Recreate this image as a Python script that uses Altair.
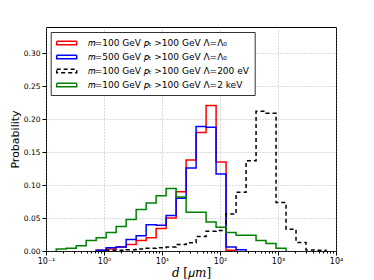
import altair as alt
import pandas as pd

# bin edges (micrometres), 28 log-spaced bins
edges = [0.150, 0.223, 0.332, 0.493, 0.733, 1.090, 1.621, 2.411, 3.584, 5.329,
         7.924, 11.78, 17.52, 26.05, 38.73, 57.59, 85.63, 127.3, 189.3, 281.5,
         418.5, 622.3, 925.3, 1376, 2045, 3041, 4522, 6724, 10000]

series_names = [
    "𝑚=100 GeV 𝑝ₜ >100 GeV Λ=Λ₀",
    "𝑚=500 GeV 𝑝ₜ >100 GeV Λ=Λ₀",
    "𝑚=100 GeV 𝑝ₜ >100 GeV Λ=200 eV",
    "𝑚=100 GeV 𝑝ₜ >100 GeV Λ=2 keV",
]

red = [0, 0, 0, 0, 0.001, 0.003, 0.006, 0.010, 0.016, 0.020, 0.034, 0.050, 0.090, 0.138,
       0.180, 0.221, 0.135, 0.001, 0, 0, 0, 0, 0, 0, 0, 0, 0, 0]
blue = [0, 0, 0, 0, 0.001, 0.005, 0.006, 0.0175, 0.023, 0.040, 0.039, 0.054, 0.080, 0.126,
        0.189, 0.188, 0.117, 0.006, 0.002, 0, 0, 0, 0, 0, 0, 0, 0, 0]
black = [0, 0, 0, 0, 0, 0.001, 0.001, 0.002, 0.003, 0.004, 0.005, 0.006, 0.010, 0.0125,
         0.022, 0.030, 0.031, 0.056, 0.089, 0.137, 0.212, 0.209, 0.0735, 0.033, 0.013,
         0.0015, 0.001, 0]
green = [0.003, 0.004, 0.008, 0.016, 0.020, 0.028, 0.037, 0.048, 0.063, 0.073, 0.084,
         0.095, 0.082, 0.059, 0.059, 0.044, 0.036, 0.028, 0.024, 0.024, 0.016, 0.0115,
         0.004, 0, 0, 0, 0, 0]

colors = ["#ff0000", "#0000ff", "#000000", "#008000"]
dashes = [[1, 0], [1, 0], [4, 3], [1, 0]]

rows = []
for name, vals in zip(series_names, [red, blue, black, green]):
    nz = [i for i, v in enumerate(vals) if v > 0]
    i0, i1 = nz[0], nz[-1]
    o = 0
    rows.append(dict(s=name, d=edges[i0], p=0.0, o=o)); o += 1
    for i in range(i0, i1 + 1):
        rows.append(dict(s=name, d=edges[i], p=vals[i], o=o)); o += 1
    rows.append(dict(s=name, d=edges[i1 + 1], p=0.0, o=o))
df = pd.DataFrame(rows)

x_ticks = []
for e in range(-1, 4):
    for m in range(1, 10):
        x_ticks.append(m * 10 ** e if e >= 0 else m / 10)
x_ticks.append(10000)

major_test = "abs(log(datum.value)/LN10 - round(log(datum.value)/LN10)) < 1e-6"
label_expr = ("datum.value==0.1?'10⁻¹':datum.value==1?'10⁰':datum.value==10?'10¹':"
              "datum.value==100?'10²':datum.value==1000?'10³':datum.value==10000?'10⁴':''")

chart = alt.Chart(df).mark_line(interpolate="step-after", strokeWidth=1.5, clip=True).encode(
    x=alt.X("d:Q", scale=alt.Scale(type="log", domain=[0.1, 10000], nice=False),
            axis=alt.Axis(values=x_ticks, labelExpr=label_expr, title="𝑑 [𝜇𝑚]",
                          titleFont="DejaVu Serif", titleFontSize=12, titleFontWeight="normal",
                          titlePadding=2,
                          gridOpacity={"condition": {"test": major_test, "value": 1}, "value": 0},
                          tickSize={"condition": {"test": major_test, "value": 4}, "value": 2},
                          labelFontSize=8, labelFlush=False)),
    y=alt.Y("p:Q", scale=alt.Scale(domain=[0, 0.34], nice=False),
            axis=alt.Axis(values=[0, 0.05, 0.10, 0.15, 0.20, 0.25, 0.30], format=".2f",
                          title="Probability", titleFontSize=11, titleFontWeight="normal",
                          titlePadding=3, labelFontSize=7.5, tickSize=4)),
    color=alt.Color("s:N", scale=alt.Scale(domain=series_names, range=colors),
                    legend=alt.Legend(title=None)),
    strokeDash=alt.StrokeDash("s:N", scale=alt.Scale(domain=series_names, range=dashes),
                              legend=alt.Legend(title=None)),
    order="o:Q",
).properties(
    width=290, height=224,
    autosize=alt.AutoSizeParams(type="none"),
    padding={"left": 38, "top": 19, "right": 30, "bottom": 29},
).configure_view(
    stroke="black", strokeWidth=1
).configure_axis(
    labelFont="DejaVu Sans", titleFont="DejaVu Sans", labelColor="black", titleColor="black",
    domain=False, tickColor="black", gridColor="#888888", gridDash=[1, 2], gridWidth=0.6,
    labelPadding=2
).configure_legend(
    orient="none", legendX=4.7, legendY=5, strokeColor="#333333", fillColor="white",
    padding=5, labelFont="DejaVu Sans", labelFontSize=9, labelColor="black",
    symbolType="M-2,-0.35L2,-0.35L2,0.35L-2,0.35Z", symbolSize=100, symbolStrokeWidth=1.5,
    symbolFillColor="transparent", symbolOffset=5, labelOffset=15, rowPadding=3,
    labelLimit=300, cornerRadius=0
)

chart.save("out.html", embed_options={"renderer": "svg", "actions": False})
